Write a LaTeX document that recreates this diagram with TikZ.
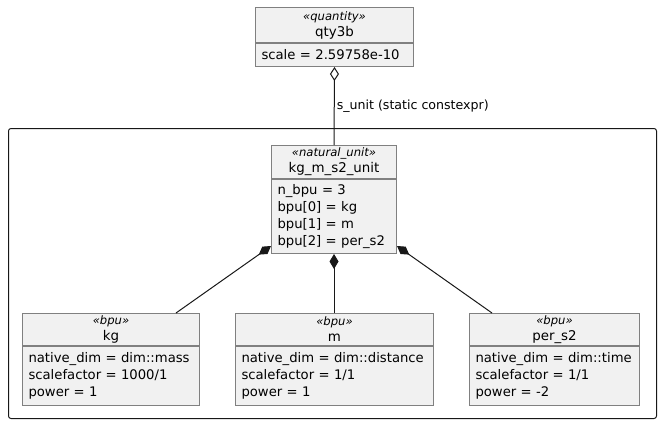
\documentclass[tikz,border=0pt]{standalone}
\usepackage{fontspec}
\setmainfont{DejaVu Sans}
\usepackage{tikz}
\usetikzlibrary{arrows.meta, positioning}
\definecolor{umlfill}{RGB}{241, 241, 241}
\definecolor{umlgray}{RGB}{128, 128, 128}
\definecolor{umlline}{RGB}{24, 24, 24}
\newcommand{\umlstereo}[1]{{\fontsize{11.6}{14}\selectfont\itshape «#1»}}

\begin{document}
\begin{tikzpicture}[
  x=1pt, y=-1pt,
  hdr/.style={draw=umlgray, fill=umlfill, line width=1pt, align=center, inner sep=0pt, font=\fontsize{13.4}{16}\selectfont},
  attr/.style={draw=umlgray, fill=umlfill, line width=1pt, align=left, inner xsep=6pt, inner ysep=0pt, font=\fontsize{13.2}{16.7}\selectfont},
  pkg/.style={draw=umlline, line width=1pt, rounded corners=2.5pt},
  link/.style={draw=umlline, line width=1pt},
  comp/.style={link, {Diamond[length=15pt, width=9pt]}-},
  aggr/.style={link, {Diamond[open, length=14pt, width=9pt]}-},
  lbl/.style={font=\fontsize{12.6}{15}\selectfont, inner sep=2pt}
]
  \useasboundingbox (0,0) rectangle (660,425);

  % package frame
  \node[pkg, minimum width=648, minimum height=290, anchor=north west] (frame) at (8,128) {};

  % quantity
  \node[hdr, minimum width=158, minimum height=35, anchor=north west] (qtyhead) at (255,7) {\umlstereo{quantity}\\qty3b};
  \node[attr, minimum width=158, minimum height=23, text width=146pt, below=0pt of qtyhead] (qty) {scale = 2.59758e-10};

  % natural unit
  \node[hdr, minimum width=125, minimum height=33, anchor=north west] (unithead) at (271,145) {\umlstereo{natural\_unit}\\kg\_m\_s2\_unit};
  \node[attr, minimum width=125, minimum height=74, text width=113pt, below=0pt of unithead] (unit) {n\_bpu = 3\\bpu[0] = kg\\bpu[1] = m\\bpu[2] = per\_s2};

  % base units
  \node[hdr, minimum width=177, minimum height=32, anchor=north west] (kghead) at (22,313) {\umlstereo{bpu}\\kg};
  \node[attr, minimum width=177, minimum height=59, text width=165pt, below=0pt of kghead] (kg) {native\_dim = dim::mass\\scalefactor = 1000/1\\power = 1};

  \node[hdr, minimum width=198, minimum height=32, anchor=north west] (mhead) at (235,313) {\umlstereo{bpu}\\m};
  \node[attr, minimum width=198, minimum height=59, text width=186pt, below=0pt of mhead] (m) {native\_dim = dim::distance\\scalefactor = 1/1\\power = 1};

  \node[hdr, minimum width=170, minimum height=32, anchor=north west] (s2head) at (469,313) {\umlstereo{bpu}\\per\_s2};
  \node[attr, minimum width=170, minimum height=59, text width=158pt, below=0pt of s2head] (s2) {native\_dim = dim::time\\scalefactor = 1/1\\power = -2};

  % links
  \draw[aggr] (qty.south) -- node[lbl, right] (slabel) {s\_unit (static constexpr)} (unithead.north);
  \draw[comp] ([yshift=8pt]unit.south west) -- ([xshift=-24pt]kghead.north east);
  \draw[comp] (unit.south) -- (unit.south |- mhead.north);
  \draw[comp] ([yshift=8pt]unit.south east) -- ([xshift=23pt]s2head.north west);
\end{tikzpicture}
\end{document}
